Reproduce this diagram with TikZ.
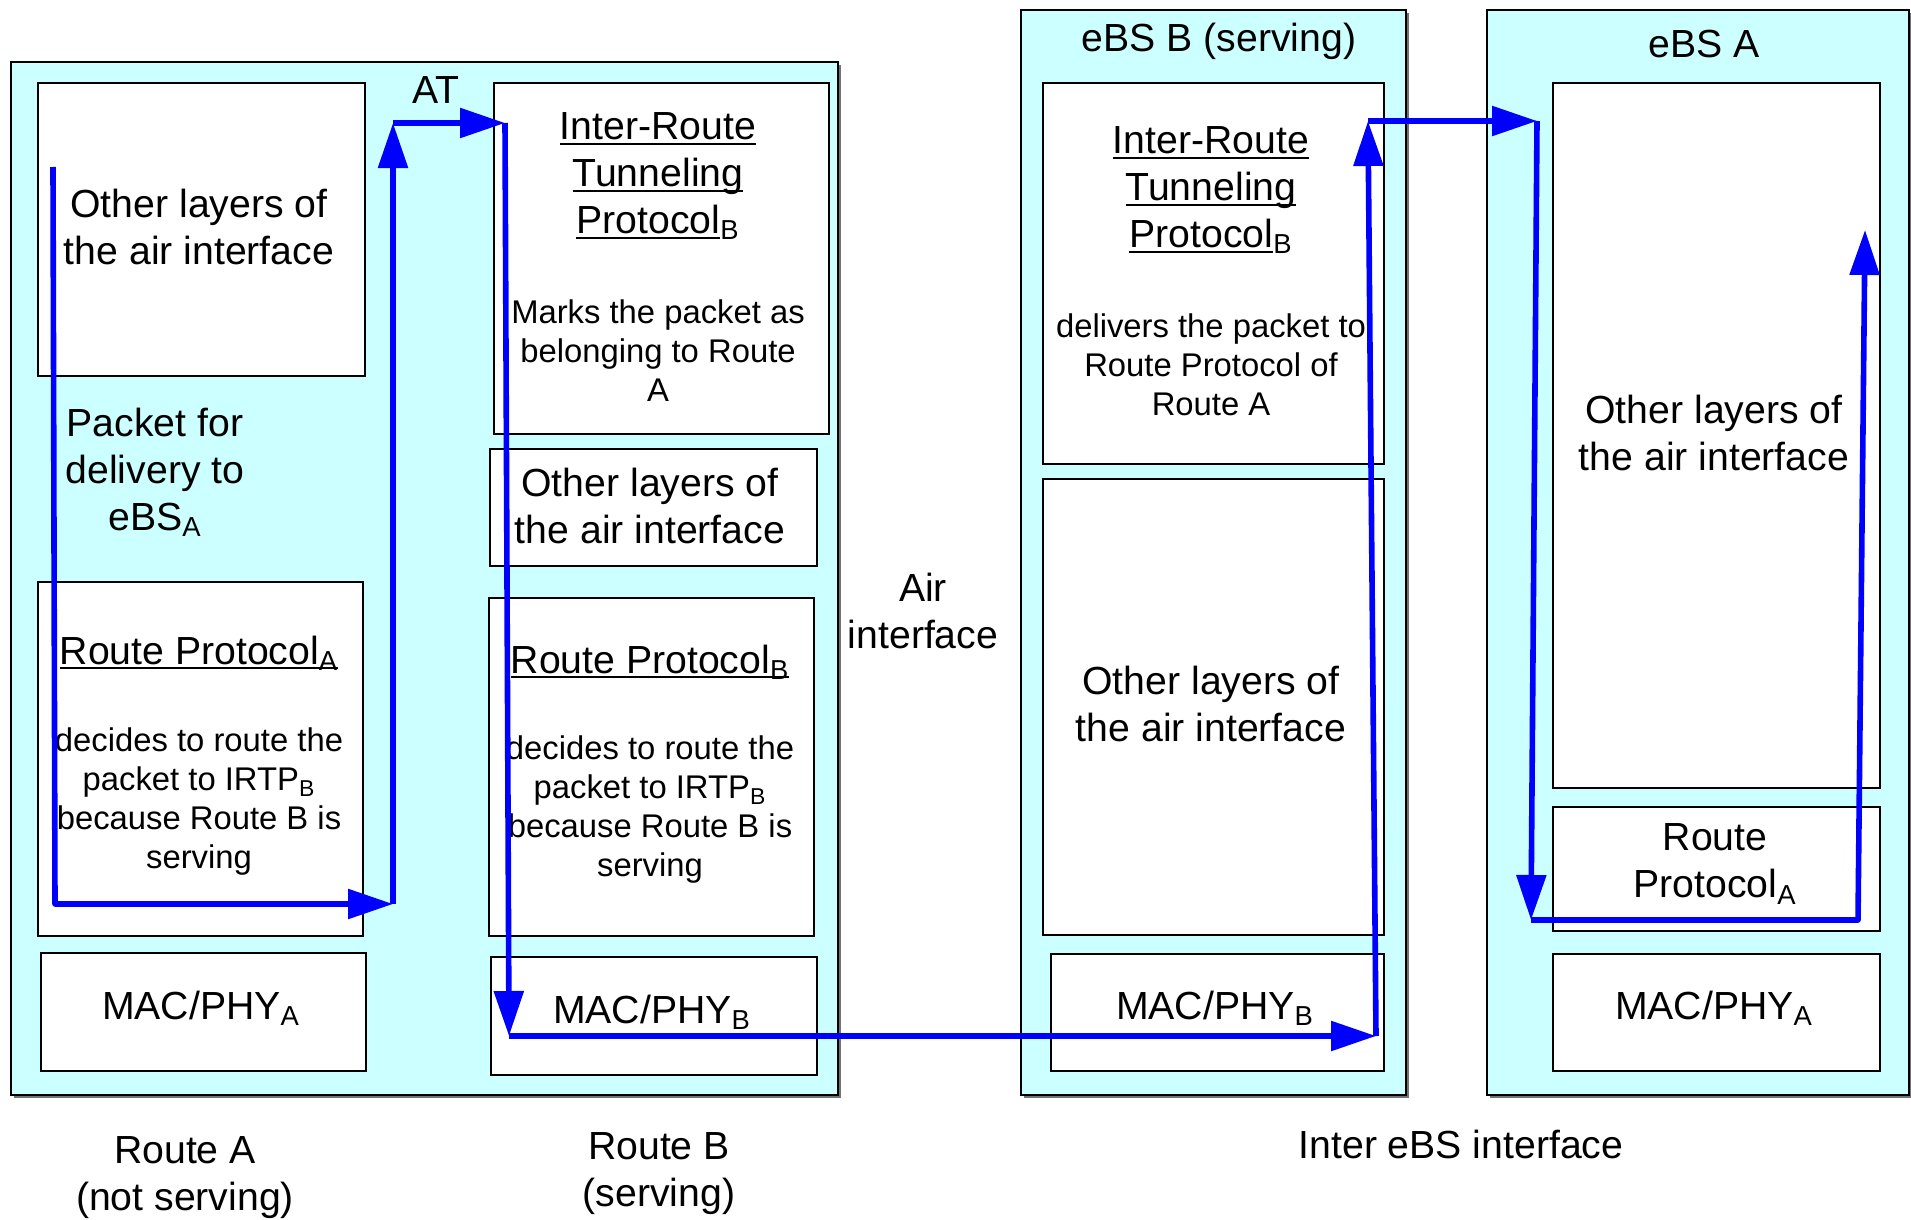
\documentclass[tikz,border=0pt]{standalone}
\usepackage{fontspec}
\setmainfont{Liberation Sans}
\newsavebox\myulbox
\newcommand\myuline[1]{\sbox\myulbox{#1}\rlap{\rule[-2.6pt]{\wd\myulbox}{0.9pt}}\usebox\myulbox}
\usetikzlibrary{arrows.meta,shadows}
\definecolor{cyanbg}{RGB}{204,255,255}
\definecolor{flow}{RGB}{0,0,255}
\begin{document}
\begin{tikzpicture}[x=0.5pt,y=-0.5pt,
  container/.style={draw=black, line width=1.2pt, fill=cyanbg, anchor=north west, inner sep=0pt,
    drop shadow={shadow xshift=1.2pt, shadow yshift=-1.2pt, fill=black!55, opacity=1}},
  layerbox/.style={draw=black, line width=1pt, fill=white, anchor=north west, inner sep=0pt},
  bigtext/.style={font=\fontsize{19.6}{23.5}\selectfont, align=center, inner sep=0pt},
  smalltext/.style={font=\fontsize{16.4}{19.5}\selectfont, align=center, inner sep=0pt},
  flowline/.style={draw=flow, line width=2.8pt, line join=round},
  flowarrow/.style={flowline, -{Triangle[length=22.5pt,width=14.5pt]}},
]
\useasboundingbox (0,0) rectangle (1911,1220);

% containers
\node[container, minimum width=413.5pt, minimum height=516.5pt] (at) at (10,61) {};
\node[container, minimum width=192.5pt, minimum height=542.5pt] (ebsB) at (1020,9) {};
\node[container, minimum width=211pt, minimum height=542.5pt] (ebsA) at (1486,9) {};

% Route A boxes
\node[layerbox, minimum width=163.5pt, minimum height=146.5pt] (raOther) at (37,82) {};
\node[layerbox, minimum width=162.5pt, minimum height=177pt] (raRP) at (37,581) {};
\node[layerbox, minimum width=162.5pt, minimum height=59pt] (raMAC) at (40,952) {};
% Route B boxes
\node[layerbox, minimum width=167.5pt, minimum height=175.5pt] (rbIRTP) at (493,82) {};
\node[layerbox, minimum width=163.5pt, minimum height=58.5pt] (rbOther) at (489,448) {};
\node[layerbox, minimum width=162.5pt, minimum height=169pt] (rbRP) at (488,597) {};
\node[layerbox, minimum width=163pt, minimum height=59pt] (rbMAC) at (490,956) {};
% eBS B boxes
\node[layerbox, minimum width=170.5pt, minimum height=190.5pt] (ebIRTP) at (1042,82) {};
\node[layerbox, minimum width=170.5pt, minimum height=228pt] (ebOther) at (1042,478) {};
\node[layerbox, minimum width=166.5pt, minimum height=58.5pt] (ebMAC) at (1050,953) {};
% eBS A boxes
\node[layerbox, minimum width=163.5pt, minimum height=352.5pt] (eaOther) at (1552,82) {};
\node[layerbox, minimum width=163.5pt, minimum height=62pt] (eaRP) at (1552,806) {};
\node[layerbox, minimum width=163.5pt, minimum height=58.5pt] (eaMAC) at (1552,953) {};

% texts
\node[bigtext] (atLabel) at (436,90) {AT};
\node[bigtext] (raOtherT) at (199,227) {Other layers of\\the air interface};
\node[bigtext] (packetT) at (155,472) {Packet for\\delivery to\\eBS\textsubscript{A}};
\node[bigtext] (raRPTitle) at (199,653) {\myuline{Route Protocol\textsubscript{A}}};
\node[smalltext] (raRPT) at (199,802) {decides to route the\\packet to IRTP\textsubscript{B}\\because Route B is\\serving};
\node[bigtext] (raMACT) at (201,1008) {MAC/PHY\textsubscript{A}};

\node[bigtext] (rbIRTPTitle) at (658,176) {\myuline{Inter-Route}\\\myuline{Tunneling}\\\myuline{Protocol}\textsubscript{B}};
\node[smalltext] (rbIRTPT) at (658,351) {Marks the packet as\\belonging to Route\\A};
\node[bigtext] (rbOtherT) at (650,506) {Other layers of\\the air interface};
\node[bigtext] (rbRPTitle) at (650,662) {\myuline{Route Protocol\textsubscript{B}}};
\node[smalltext] (rbRPT) at (650,810) {decides to route the\\packet to IRTP\textsubscript{B}\\because Route B is\\serving};
\node[bigtext] (rbMACT) at (652,1012) {MAC/PHY\textsubscript{B}};

\node[bigtext] (airT) at (923,611) {Air\\interface};

\node[bigtext] (ebTitle) at (1219,41) {eBS B (serving)};
\node[bigtext] (ebIRTPTitle) at (1211,190) {\myuline{Inter-Route}\\\myuline{Tunneling}\\\myuline{Protocol}\textsubscript{B}};
\node[smalltext] (ebIRTPT) at (1211,365) {delivers the packet to\\Route Protocol of\\Route A};
\node[bigtext] (ebOtherT) at (1211,704) {Other layers of\\the air interface};
\node[bigtext] (ebMACT) at (1215,1008) {MAC/PHY\textsubscript{B}};

\node[bigtext] (eaTitle) at (1704,44) {eBS A};
\node[bigtext] (eaOtherT) at (1714,433) {Other layers of\\the air interface};
\node[bigtext] (eaRPT) at (1715,864) {Route\\Protocol\textsubscript{A}};
\node[bigtext] (eaMACT) at (1714,1008) {MAC/PHY\textsubscript{A}};

\node[bigtext] (labelA) at (185,1178) {Route A\\(not serving)};
\node[bigtext] (labelB) at (659,1174) {Route B\\(serving)};
\node[bigtext] (labelInter) at (1461,1144) {Inter eBS interface};

% flow coordinates
\coordinate (p1) at (53,167);
\coordinate (p2) at (55,904);
\coordinate (p3) at (393,904);
\coordinate (p4) at (393,123);
\coordinate (p5) at (505,123);
\coordinate (p6) at (509,1036);
\coordinate (p7) at (1376,1036);
\coordinate (p8) at (1368,121);
\coordinate (p9) at (1537,121);
\coordinate (p10) at (1531,920);
\coordinate (p11) at (1858,920);
\coordinate (p12) at (1865,230);

\draw[flowarrow] (p1) -- (p2) -- (p3);
\draw[flowarrow] (p3) -- (p4);
\draw[flowarrow] (p4) -- (p5);
\draw[flowarrow] (p5) -- (p6);
\draw[flowarrow] (p6) -- (p7);
\draw[flowarrow] (p7) -- (p8);
\draw[flowarrow] (p8) -- (p9);
\draw[flowarrow] (p9) -- (p10);
\draw[flowarrow] (p10) -- (p11) -- (p12);
\end{tikzpicture}
\end{document}
